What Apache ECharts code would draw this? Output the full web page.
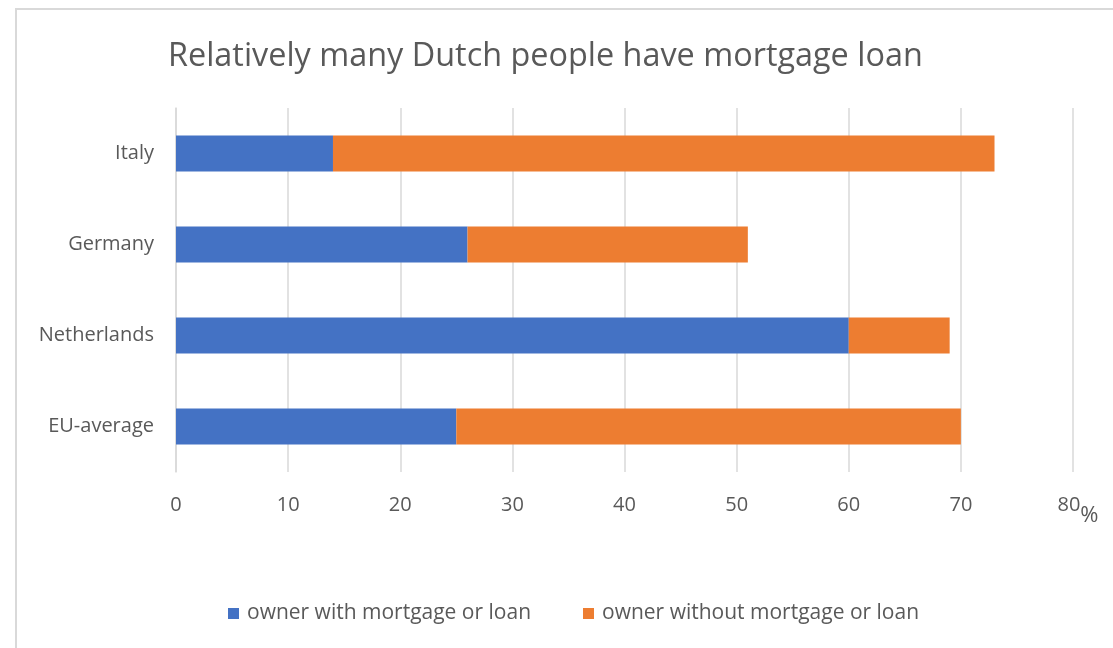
<!DOCTYPE html>
<html>
<head>
<meta charset="utf-8">
<script src="https://cdn.jsdelivr.net/npm/echarts@6/dist/echarts.min.js"></script>
<style>
  html, body { margin: 0; padding: 0; background: #fff; }
  #frame { position: absolute; left: 15px; top: 8px; width: 1200px; height: 700px; border: 2px solid #d9d9d9; box-sizing: border-box; }
  #chart { position: absolute; left: 0; top: 0; width: 1113px; height: 648px; }
</style>
</head>
<body>
<div id="frame"></div>
<div id="chart"></div>
<script>
const categories = ['EU-average', 'Netherlands', 'Germany', 'Italy'];
const withMortgage = [25, 60, 26, 14];
const withoutMortgage = [45, 9, 25, 59];
const seriesNames = ['owner with mortgage or loan', 'owner without mortgage or loan'];
const xMax = 80;
const xUnit = '%';

const FONT = '"Open Sans", "Noto Sans", sans-serif';
const chart = echarts.init(document.getElementById('chart'));
chart.setOption({
  backgroundColor: 'transparent',
  animation: false,
  title: {
    text: 'Relatively many Dutch people have mortgage loan',
    left: 163, top: 36,
    textStyle: { fontFamily: FONT, fontSize: 32.4, fontWeight: 'normal', color: '#595959' }
  },
  legend: {
    bottom: 19, left: 223,
    itemWidth: 11, itemHeight: 11, itemGap: 52,
    icon: 'rect',
    textStyle: { fontFamily: FONT, fontSize: 21, color: '#595959', padding: [0, 0, 0, 3] },
    data: seriesNames
  },
  grid: { left: 176, right: 40, top: 108, bottom: 176, containLabel: false },
  xAxis: {
    type: 'value', min: 0, max: xMax, interval: 10,
    axisLine: { show: false }, axisTick: { show: false },
    splitLine: { show: true, lineStyle: { color: '#d9d9d9', width: 1.5 } },
    axisLabel: {
      margin: 23, color: '#595959', fontFamily: FONT, fontSize: 20,
      formatter: v => v === xMax ? '{n|' + v + '}{p|' + xUnit + '}' : String(v),
      rich: {
        n: { fontFamily: FONT, fontSize: 20, color: '#595959', verticalAlign: 'top', padding: [0, 0, 0, 10] },
        p: { fontFamily: FONT, fontSize: 22, color: '#595959', verticalAlign: 'bottom', padding: [10, 0, 0, 0] }
      }
    }
  },
  yAxis: {
    type: 'category', data: categories,
    axisLine: { show: true, lineStyle: { color: '#d9d9d9', width: 1.5 } },
    axisTick: { show: false },
    axisLabel: { margin: 22, color: '#595959', fontFamily: FONT, fontSize: 20 }
  },
  series: [
    { name: seriesNames[0], type: 'bar', stack: 'a', data: withMortgage, barWidth: 36, itemStyle: { color: '#4472C4' } },
    { name: seriesNames[1], type: 'bar', stack: 'a', data: withoutMortgage, barWidth: 36, itemStyle: { color: '#ED7D31' } }
  ]
});
</script>
</body>
</html>
